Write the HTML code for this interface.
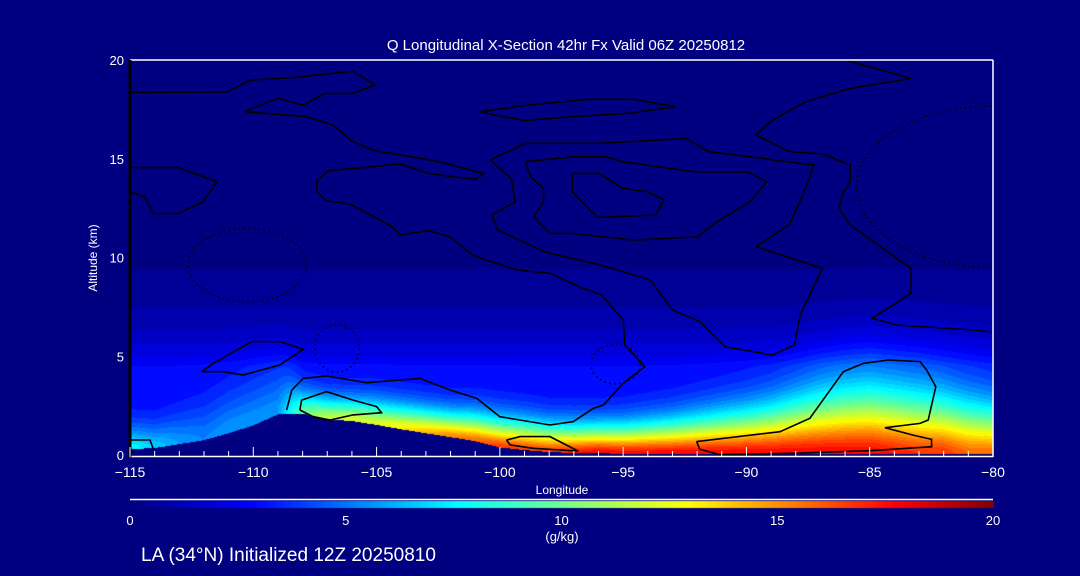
<!DOCTYPE html>
<html><head><meta charset="utf-8">
<style>
html,body{margin:0;padding:0;background:#000080;}
#wrap{position:relative;width:1080px;height:576px;overflow:hidden;background:#000080;font-family:"Liberation Sans",sans-serif;color:#fff;}
canvas{position:absolute;left:0;top:0;}
svg{position:absolute;left:0;top:0;}
</style></head>
<body>
<div id="wrap">
<canvas id="field" width="1080" height="576"></canvas>
<svg id="ov" width="1080" height="576"></svg>
</div>
<script>
// ---- data ----
const lons = [-115,-114,-113,-112,-111,-110,-109,-108,-107,-106,-105,-104,-103,-102,-101,-100,-99,-98,-97,-96,-95,-94,-93,-92,-91,-90,-89,-88,-87,-86,-85,-84,-83,-82,-81,-80];
const terrainKm = [0.3,0.35,0.55,0.75,1.1,1.5,2.05,2.1,1.8,1.72,1.52,1.3,1.1,0.9,0.7,0.38,0.25,0.15,0.1,0.1,0.05,0.05,0.05,0.05,0.05,0.05,0.05,0.05,0.05,0.05,0.05,0.05,0.05,0.05,0.05,0.05];
const surfaceQ = [8,7,6,5.5,6,6,6,10,12,12.5,12.5,13.5,14.5,15.5,16,17,17,17,17.5,18,18,18,18,18,18,18,18,18,18,18,18,17.5,17,17,16,16];
const scaleH = [1.2,1.2,1.5,1.8,2.0,2.2,2.2,1.2,1.1,1.1,1.2,1.2,1.2,1.2,1.3,1.35,1.35,1.3,1.3,1.3,1.35,1.45,1.55,1.7,1.85,2.0,2.2,2.5,2.8,3.0,3.1,3.0,2.9,2.7,2.5,2.3];
const xTicks = [-115,-110,-105,-100,-95,-90,-85,-80];
const yTicks = [0,5,10,15,20];
const cbTicks = [0,5,10,15,20];
// contours [lon, alt]
const contourA = [[-114.97,18.36],[-111.03,18.39],[-110.12,18.98],[-108.32,19.12],[-105.96,19.44],[-105.06,18.73],[-105.96,18.31],[-107.08,18.31],[-107.98,17.72],[-109.0,18.06],[-110.35,17.38],[-107.87,17.13],[-106.75,16.71],[-106.07,15.95],[-105.17,15.44],[-102.46,14.85],[-100.66,14.26],[-101.0,13.95],[-102.92,14.26],[-104.04,14.73],[-106.97,14.39],[-107.42,13.87],[-107.42,13.33],[-107.04,12.87],[-106.07,12.71],[-104.38,11.56],[-104.04,11.14],[-102.92,11.36],[-102.02,11.05],[-101.11,10.12],[-99.31,9.36],[-97.96,9.2],[-96.75,8.49],[-95.87,8.1],[-95.0,6.84],[-94.93,5.57],[-94.12,4.47],[-95.0,3.63],[-95.8,2.53],[-96.21,2.36],[-97.02,1.69],[-97.97,1.52],[-100.0,1.94],[-100.94,2.87],[-102.02,3.29],[-103.24,3.88],[-105.4,3.66],[-107.03,4.0],[-107.97,3.88],[-108.44,3.29],[-108.65,2.28]];
const contourC = [[-89.62,10.55],[-88.27,11.64],[-87.71,13.16],[-87.26,14.68],[-91.54,15.36],[-92.44,16.03],[-95.93,15.78],[-98.97,15.78],[-100.39,14.93],[-99.54,14.0],[-99.38,12.82],[-100.32,12.15],[-100.1,11.39],[-98.18,10.29],[-95.93,9.62],[-93.9,8.86],[-93.0,7.34],[-91.88,6.75],[-90.86,5.48],[-88.95,5.06],[-88.05,5.57],[-87.82,7.09],[-86.92,9.45],[-89.62,10.55]];
const contourD = [[-98.97,14.85],[-97.06,15.1],[-95.71,15.1],[-95.03,14.85],[-92.1,14.34],[-89.96,14.34],[-89.17,13.84],[-89.85,12.82],[-91.2,11.81],[-91.99,11.05],[-94.58,10.88],[-97.06,11.22],[-97.96,11.22],[-98.63,12.06],[-98.23,12.82],[-98.23,13.5],[-98.75,14.09],[-98.97,14.85]];
const contourE = [[-97.06,14.26],[-95.98,14.26],[-95.03,13.5],[-94.02,13.33],[-93.34,12.91],[-93.68,12.15],[-96.05,12.03],[-97.06,13.33],[-97.06,14.26]];
const contourF = [[-100.77,17.38],[-98.86,17.72],[-96.38,18.01],[-94.58,18.01],[-92.89,17.63],[-94.81,17.3],[-97.06,17.13],[-98.97,16.93],[-100.21,17.21],[-100.77,17.38]];
const contourG = [[-92.33,20.0],[-90.3,20.0],[-88.95,20.0],[-86.02,20.0],[-83.32,19.07],[-85.79,18.56],[-87.6,17.89],[-88.95,16.96],[-89.62,16.2],[-89.06,15.86],[-88.27,15.36],[-86.92,15.24],[-85.79,14.68],[-85.79,13.84],[-86.13,13.16],[-86.24,12.49],[-85.79,11.64],[-83.32,9.45],[-83.32,8.18],[-84.9,6.92],[-83.89,6.58],[-80.84,6.33],[-80.0,6.24]];
const contourG2 = [[-115,14.55],[-113.05,14.55],[-111.48,13.84],[-112.04,12.82],[-113.05,12.23],[-114.07,12.23],[-114.4,13.08],[-115,13.33]];
const contourH = [[-112.09,4.22],[-111.62,4.64],[-110.07,5.74],[-108.92,5.74],[-107.97,5.35],[-108.92,4.56],[-110.41,4.05],[-111.22,4.22],[-112.09,4.22]];
const contourJ = [[-108.11,2.28],[-108.04,2.78],[-107.03,3.21],[-105.95,2.78],[-105.0,2.45],[-104.8,2.14],[-105.95,2.03],[-106.89,1.77],[-107.57,1.94],[-108.11,2.28]];
const contourK = [[-99.73,0.76],[-99.18,0.93],[-97.97,0.93],[-96.82,0.2],[-98.65,0.34],[-99.59,0.51],[-99.73,0.76]];
const contourL = [[-92.02,0.68],[-88.64,1.18],[-87.43,1.86],[-86.07,4.22],[-85.26,4.64],[-84.25,4.81],[-82.96,4.73],[-82.69,4.3],[-82.32,3.46],[-82.63,1.77],[-82.96,1.6],[-84.38,1.38],[-83.24,1.01],[-82.49,0.79],[-82.49,0.42],[-84.99,0.22],[-87.97,0.09],[-91.08,0.02],[-91.89,0.29],[-92.02,0.68]];
const contourM = [[-115,0.76],[-114.19,0.76],[-114.05,0.29]];
const dottedCenters = [[-110.24,9.62,2.4,1.86],[-79.94,13.58,5.6,4.1],[-106.6,5.4,0.9,1.2],[-95.3,4.6,1.0,1.0]];

// ---- axes ----
const X0=130,X1=993,Y0=455,Y1=60;
const xs = lon => X0 + (lon+115)/35*(X1-X0);
const ys = alt => Y0 - alt/20*(Y0-Y1);
const cbX = q => X0 + q/20*(X1-X0);

const stops=[[0,[0,0,128]],[2.8,[0,0,255]],[7.6,[0,255,255]],[12.9,[255,255,0]],[17.7,[255,0,0]],[20,[128,0,0]]];
function cmap(q){
  q=Math.max(0,Math.min(20,q));
  for(let i=1;i<stops.length;i++){
    if(q<=stops[i][0]){const a=stops[i-1],b=stops[i];const t=(q-a[0])/(b[0]-a[0]);
      return a[1].map((v,k)=>Math.round(v+(b[1][k]-v)*t));}
  }
  return stops[stops.length-1][1];
}
function interp(arr,lon){
  const f=(lon+115); let i=Math.floor(f); if(i<0)i=0; if(i>=arr.length-1)return arr[arr.length-1];
  const t=f-i; return arr[i]*(1-t)+arr[i+1]*t;
}
const bg = z => Math.min(3, 2.5*Math.exp(-(z-5)/2.7));

// ---- field ----
const cv=document.getElementById('field'); const ctx=cv.getContext('2d');
ctx.fillStyle='#000080'; ctx.fillRect(0,0,1080,576);
const img=ctx.createImageData(X1-X0,Y0-Y1);
for(let px=0;px<X1-X0;px++){
  const lon=-115+(px+0.5)/(X1-X0)*35;
  const zt=interp(terrainKm,lon), qs=interp(surfaceQ,lon), H=interp(scaleH,lon);
  const core=Math.max(0,qs-bg(zt));
  for(let py=0;py<Y0-Y1;py++){
    const z=20-(py+0.5)/(Y0-Y1)*20;
    let c;
    if(z<zt){c=[0,0,128];}
    else{
      const dz=z-zt;
      let q=core*Math.exp(-Math.pow(dz/H,1.6))+bg(z);
      q=Math.floor(q*2)/2;
      c=cmap(q);
    }
    const o=(py*(X1-X0)+px)*4; img.data[o]=c[0];img.data[o+1]=c[1];img.data[o+2]=c[2];img.data[o+3]=255;
  }
}
ctx.putImageData(img,X0,Y1);
// colorbar
for(let x=X0;x<=X1;x++){const c=cmap((x-X0)/(X1-X0)*20);ctx.fillStyle=`rgb(${c[0]},${c[1]},${c[2]})`;ctx.fillRect(x,501,1,7);}

// ---- overlay ----
const ov=document.getElementById('ov'); const NS='http://www.w3.org/2000/svg';
function el(tag,attrs,parent){const e=document.createElementNS(NS,tag);for(const k in attrs)e.setAttribute(k,attrs[k]);(parent||ov).appendChild(e);return e;}
const cp=el('clipPath',{id:'pc'});
el('rect',{x:X0,y:Y1,width:X1-X0,height:Y0-Y1},cp);
function contour(pts,name){
  const d=pts.map((p,i)=>(i?'L':'M')+xs(p[0]).toFixed(1)+','+ys(p[1]).toFixed(1)).join('');
  const e=el('path',{d:d,fill:'none',stroke:'#000','stroke-width':1.6,'clip-path':'url(#pc)'});
  
  
}
[[contourA,'contour-a'],[contourC,'contour-c'],[contourD,'contour-d'],[contourE,'contour-e'],[contourF,'contour-f'],[contourG,'contour-g'],[contourG2,'contour-g2'],[contourH,'contour-h'],[contourJ,'contour-j'],[contourK,'contour-k'],[contourL,'contour-l'],[contourM,'contour-m']].forEach(([p,n])=>contour(p,n));
dottedCenters.forEach(d=>{
  const e=el('ellipse',{cx:xs(d[0]),cy:ys(d[1]),rx:d[2]/35*(X1-X0),ry:d[3]/20*(Y0-Y1),fill:'none',stroke:'#000','stroke-width':1.5,'stroke-dasharray':'1.5 3.5','clip-path':'url(#pc)'});
  
  
});
// frame
let f=el('line',{x1:X0,y1:Y1,x2:X1,y2:Y1,stroke:'#fff','stroke-width':1.5});

f=el('line',{x1:X1,y1:Y1,x2:X1,y2:Y0+2,stroke:'#fff','stroke-width':1.5});

f=el('line',{x1:X0,y1:Y0+1.5,x2:X1,y2:Y0+1.5,stroke:'#fff','stroke-width':1.5});

f=el('line',{x1:X0,y1:Y1,x2:X0,y2:Y0+2,stroke:'#000','stroke-width':3});

for(let lon=-115;lon<=-80;lon++){
  const major=xTicks.includes(lon);
  const t=el('line',{x1:xs(lon),y1:Y0+2,x2:xs(lon),y2:Y0-(major?8:4),stroke:'#fff','stroke-width':1});
  
}
xTicks.forEach(v=>{
  const t=el('text',{x:xs(v),y:477,'text-anchor':'middle','font-size':14,fill:'#fff','font-family':'Liberation Sans, sans-serif'});
  t.textContent=(v<0?'\u2212':'')+Math.abs(v);
  
});
yTicks.forEach(v=>{
  const t=el('text',{x:124,y:ys(v)+5,'text-anchor':'end','font-size':13,fill:'#fff','font-family':'Liberation Sans, sans-serif'});
  t.textContent=v;
  
});
cbTicks.forEach(v=>{
  const t=el('text',{x:cbX(v),y:525,'text-anchor':'middle','font-size':13,fill:'#fff','font-family':'Liberation Sans, sans-serif'});
  t.textContent=v;
  
});
f=el('line',{x1:X0,y1:499.5,x2:X1,y2:499.5,stroke:'#fff','stroke-width':1.5});

function txt(s,x,y,size,name,extra){const t=el('text',Object.assign({x:x,y:y,'font-size':size,fill:'#fff','font-family':'Liberation Sans, sans-serif'},extra||{}));t.textContent=s;return t;}
txt('Q Longitudinal X-Section 42hr  Fx Valid 06Z 20250812',566,50,15,'chart-title',{'text-anchor':'middle','xml:space':'preserve'});
txt('Longitude',562,494,12,'x-axis-title',{'text-anchor':'middle'});
txt('(g/kg)',562,541,13,'colorbar-unit',{'text-anchor':'middle'});
txt('Altitude (km)',0,0,12,'y-axis-title',{'text-anchor':'middle',transform:'translate(97,258) rotate(-90)'});
txt('LA (34\u00B0N) Initialized 12Z 20250810',141,561,19,'init-caption');
</script>
</body></html>
